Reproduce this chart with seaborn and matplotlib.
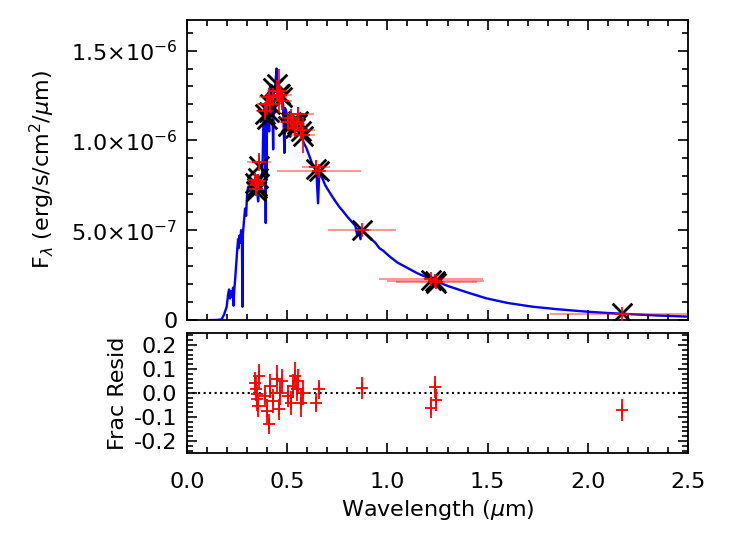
import matplotlib
matplotlib.use("Agg")
import numpy as np
import pandas as pd
import seaborn as sns
import matplotlib.pyplot as plt
from matplotlib.ticker import MultipleLocator

# --- model atmosphere (wavelength in micron, flux in 1e-6 erg/s/cm2/um) ---
spec_wave = [0.115, 0.150, 0.173, 0.185, 0.198, 0.205, 0.210, 0.215, 0.220, 0.225,
             0.230, 0.232, 0.236, 0.240, 0.245, 0.250, 0.255, 0.258, 0.262, 0.266,
             0.270, 0.274, 0.277, 0.279, 0.285, 0.290, 0.295, 0.300, 0.305, 0.310,
             0.315, 0.320, 0.325, 0.330, 0.335, 0.340, 0.345, 0.350, 0.355, 0.360,
             0.365, 0.370, 0.375, 0.378, 0.380, 0.385, 0.390, 0.393, 0.395, 0.397,
             0.400, 0.405, 0.410, 0.412, 0.416, 0.420, 0.425, 0.430, 0.433, 0.440,
             0.447, 0.450, 0.455, 0.460, 0.465, 0.470, 0.475, 0.480, 0.486, 0.489,
             0.495, 0.500, 0.510, 0.515, 0.518, 0.525, 0.535, 0.545, 0.555, 0.565,
             0.575, 0.585, 0.595, 0.605, 0.615, 0.625, 0.635, 0.645, 0.654, 0.660,
             0.675, 0.690, 0.712, 0.735, 0.760, 0.779, 0.800, 0.820, 0.840, 0.850,
             0.855, 0.866, 0.870, 0.880, 0.900, 0.920, 0.940, 0.960, 0.980, 1.011,
             1.050, 1.100, 1.150, 1.227, 1.300, 1.400, 1.493, 1.600, 1.725, 1.850,
             1.990, 2.100, 2.224, 2.350, 2.500]
spec_flux = [0.000, 0.000, 0.004, 0.030, 0.074, 0.140, 0.170, 0.120, 0.160, 0.130,
             0.180, 0.080, 0.170, 0.220, 0.300, 0.380, 0.450, 0.400, 0.470, 0.430,
             0.500, 0.460, 0.074, 0.480, 0.560, 0.620, 0.580, 0.700, 0.740, 0.720,
             0.760, 0.700, 0.750, 0.730, 0.770, 0.710, 0.760, 0.720, 0.660, 0.740,
             0.760, 0.790, 0.820, 0.900, 1.050, 1.150, 1.200, 0.540, 1.180, 0.800,
             1.220, 1.250, 1.050, 1.280, 1.310, 1.260, 1.280, 0.950, 1.270, 1.300,
             1.400, 1.300, 1.280, 1.250, 1.270, 1.240, 1.220, 1.200, 0.930, 1.180,
             1.160, 1.140, 1.130, 1.020, 1.120, 1.120, 1.100, 1.090, 1.070, 1.040,
             1.010, 0.980, 0.960, 0.930, 0.900, 0.870, 0.850, 0.840, 0.650, 0.820,
             0.790, 0.750, 0.710, 0.670, 0.630, 0.605, 0.575, 0.550, 0.525, 0.470,
             0.510, 0.450, 0.500, 0.490, 0.470, 0.450, 0.430, 0.400, 0.385, 0.354,
             0.320, 0.290, 0.260, 0.223, 0.190, 0.153, 0.121, 0.095, 0.074, 0.060,
             0.047, 0.039, 0.032, 0.025, 0.019]

# --- broadband photometry ---
band_wave = [0.339, 0.344, 0.347, 0.350, 0.354, 0.360,
             0.389, 0.397, 0.409, 0.414, 0.430, 0.447, 0.460, 0.463, 0.472,
             0.505, 0.520, 0.530, 0.538, 0.547, 0.555, 0.571, 0.580,
             0.646, 0.658, 0.874, 1.216, 1.240, 1.245, 2.171]
band_width = [0.035, 0.030, 0.045, 0.030, 0.040, 0.060,
              0.045, 0.050, 0.040, 0.060, 0.070, 0.050, 0.045, 0.060, 0.050,
              0.050, 0.060, 0.050, 0.060, 0.040, 0.080, 0.070, 0.060,
              0.070, 0.210, 0.170, 0.260, 0.240, 0.200, 0.360]
model_flux = [0.765, 0.717, 0.745, 0.735, 0.790, 0.857,
              1.145, 1.117, 1.160, 1.200, 1.294, 1.313, 1.257, 1.257, 1.240,
              1.080, 1.100, 1.099, 1.071, 1.090, 1.108, 1.050, 1.024,
              0.840, 0.828, 0.503, 0.222, 0.215, 0.208, 0.037]
obs_flux = [0.780, 0.730, 0.750, 0.760, 0.775, 0.880,
            1.165, 1.200, 1.240, 1.200, 1.240, 1.275, 1.275, 1.250, 1.220,
            1.100, 1.127, 1.100, 1.070, 1.090, 1.145, 1.060, 1.030,
            0.850, 0.830, 0.500, 0.230, 0.215, 0.210, 0.035]
obs_err = [0.040, 0.040, 0.030, 0.050, 0.040, 0.050,
           0.050, 0.060, 0.050, 0.050, 0.050, 0.060, 0.120, 0.050, 0.050,
           0.040, 0.050, 0.040, 0.050, 0.040, 0.040, 0.050, 0.100,
           0.040, 0.030, 0.020, 0.010, 0.010, 0.010, 0.004]
resid = [0.043, 0.015, -0.006, -0.026, -0.054, 0.071,
         -0.012, -0.075, -0.129, 0.029, -0.033, 0.057, -0.068, 0.001, 0.050,
         -0.012, -0.040, 0.029, 0.071, 0.015, 0.050, -0.040, 0.001,
         -0.040, 0.015, 0.022, -0.061, 0.025, -0.030, -0.072]
resid_err = [0.045, 0.050, 0.040, 0.050, 0.045, 0.050,
             0.045, 0.050, 0.040, 0.050, 0.050, 0.060, 0.045, 0.050, 0.050,
             0.045, 0.050, 0.050, 0.060, 0.050, 0.050, 0.060, 0.050,
             0.040, 0.040, 0.045, 0.045, 0.045, 0.045, 0.045]

spec = pd.DataFrame({"wave": spec_wave, "flux": np.array(spec_flux) * 1e-6})
phot = pd.DataFrame({"wave": band_wave, "dwave": band_width,
                     "model": np.array(model_flux) * 1e-6,
                     "obs": np.array(obs_flux) * 1e-6,
                     "err": np.array(obs_err) * 1e-6,
                     "resid": resid, "rerr": resid_err})

sns.set_style("ticks")
plt.rcParams["font.family"] = ["DejaVu Sans"]
plt.rcParams["font.size"] = 16
plt.rcParams["mathtext.fontset"] = "dejavusans"
for key in ["text.color", "axes.labelcolor", "xtick.color", "ytick.color", "axes.edgecolor"]:
    plt.rcParams[key] = "black"

fig = plt.figure(figsize=(7.47, 5.34), dpi=100)
ax1 = fig.add_axes([0.2503, 0.4007, 0.6707, 0.5618])
ax2 = fig.add_axes([0.2503, 0.1517, 0.6707, 0.2247])

# top panel: SED
sns.lineplot(data=spec, x="wave", y="flux", sort=False, estimator=None,
             color="blue", lw=1.7, ax=ax1, zorder=1)
sns.scatterplot(data=phot, x="wave", y="model", marker="x", s=200,
                color="black", linewidth=2, ax=ax1, zorder=2)
ax1.errorbar(phot["wave"], phot["obs"], xerr=phot["dwave"], fmt="none",
             ecolor="red", alpha=0.4, elinewidth=1.5, zorder=3)
ax1.errorbar(phot["wave"], phot["obs"], yerr=phot["err"], fmt="+", color="red",
             ms=10, mew=1.2, elinewidth=1.2, zorder=4)

ax1.set_xlim(0, 2.5)
ax1.set_ylim(0, 1.67e-6)
ax1.set_yticks([0, 5e-7, 1e-6, 1.5e-6])
ax1.set_yticklabels(["0", r"$5.0{\times}10^{-7}$", r"$1.0{\times}10^{-6}$",
                     r"$1.5{\times}10^{-6}$"])
ax1.yaxis.set_minor_locator(MultipleLocator(1e-7))
ax1.set_xticklabels([])
ax1.set_xlabel("")
ax1.set_ylabel(r"F$_\lambda$ (erg/s/cm$^2$/$\mu$m)", labelpad=10)

# bottom panel: residuals
ax2.axhline(0, color="black", ls=":", lw=1.5, zorder=1)
ax2.errorbar(phot["wave"], phot["resid"], yerr=phot["rerr"], fmt="+",
             color="red", ms=9, mew=1.3, elinewidth=1.3, zorder=2)
ax2.set_xlim(0, 2.5)
ax2.set_ylim(-0.25, 0.25)
ax2.yaxis.set_major_locator(MultipleLocator(0.1))
ax2.yaxis.set_minor_locator(MultipleLocator(0.02))
ax2.set_xlabel(r"Wavelength ($\mu$m)", labelpad=4)
ax2.set_ylabel("Frac Resid")

for ax in (ax1, ax2):
    ax.xaxis.set_major_locator(MultipleLocator(0.5))
    ax.xaxis.set_minor_locator(MultipleLocator(0.1))
    ax.tick_params(which="both", direction="in", top=True, right=True, width=1.2)
    ax.tick_params(which="major", length=7, pad=7)
    ax.tick_params(which="minor", length=4)
    for sp in ax.spines.values():
        sp.set_linewidth(1.3)

ax2.tick_params(axis="x", which="major", pad=14)
ax2.xaxis.set_major_formatter(plt.FormatStrFormatter("%.1f"))
ax2.yaxis.set_major_formatter(plt.FormatStrFormatter("%.1f"))
fig.align_ylabels([ax1, ax2])

fig.savefig("out.png", dpi=100)
